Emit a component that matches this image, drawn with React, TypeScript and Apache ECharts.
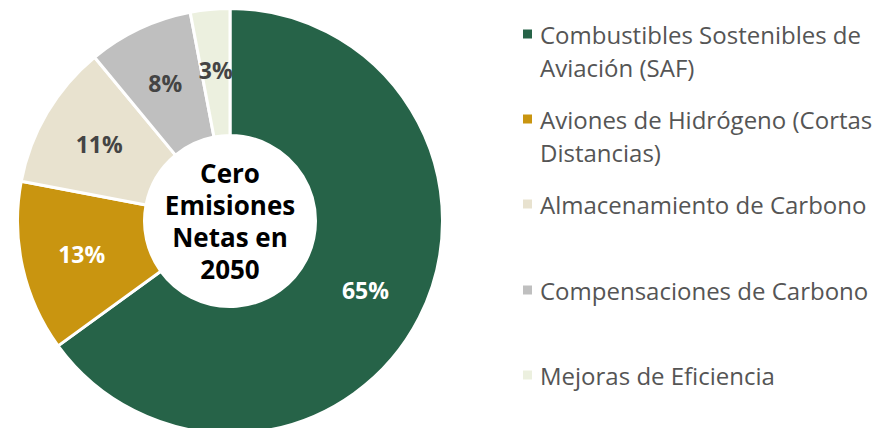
import React, { useEffect, useRef } from "react";
import * as echarts from "echarts";

const categories = [
  "Combustibles Sostenibles de Aviación (SAF)",
  "Aviones de Hidrógeno (Cortas Distancias)",
  "Almacenamiento de Carbono",
  "Compensaciones de Carbono",
  "Mejoras de Eficiencia",
];
const legendLabels = [
  "Combustibles Sostenibles de\nAviación (SAF)",
  "Aviones de Hidrógeno (Cortas\nDistancias)",
  "Almacenamiento de Carbono",
  "Compensaciones de Carbono",
  "Mejoras de Eficiencia",
];
const values = [65, 13, 11, 8, 3];
const colors = ["#266348", "#c99510", "#e8e2cf", "#bfbfbf", "#ecf0df"];
const labelColors = ["#ffffff", "#ffffff", "#444444", "#444444", "#444444"];
const centerTitle = "Cero\nEmisiones\nNetas en\n2050";
const legendIconCenters = [34, 119, 204, 290, 375];

const FONT = "'Open Sans', sans-serif";

export default function App() {
  const ref = useRef<HTMLDivElement>(null);
  useEffect(() => {
    if (!ref.current) return;
    const chart = echarts.init(ref.current, null, { renderer: "svg" });
    const LH = 33;
    const legends = categories.map((name, i) => {
      const twoLine = legendLabels[i].includes("\n");
      const boxH = twoLine ? 3 * LH : LH;
      return {
        data: [name],
        orient: "vertical",
        left: 521,
        top: legendIconCenters[i] - boxH / 2,
        padding: 0,
        itemWidth: 11,
        itemHeight: 11,
        icon: "rect",
        selectedMode: false,
        formatter: () => (twoLine ? " \n" + legendLabels[i] : legendLabels[i]),
        textStyle: {
          color: "#555555",
          fontFamily: FONT,
          fontSize: 24,
          lineHeight: LH,
          padding: [0, 0, 0, 2],
        },
      };
    });
    chart.setOption({
      animation: false,
      color: colors,
      legend: legends,
      graphic: [
        {
          type: "text",
          x: 230,
          y: 221,
          silent: true,
          style: {
            text: centerTitle,
            align: "center",
            verticalAlign: "middle",
            fill: "#000000",
            fontFamily: FONT,
            fontSize: 26,
            fontWeight: "bold",
            lineHeight: 32.3,
          },
        },
      ],
      series: [
        {
          type: "pie",
          center: [230, 221],
          radius: [85.5, 212.5],
          startAngle: 90,
          clockwise: true,
          avoidLabelOverlap: false,
          itemStyle: { borderColor: "#ffffff", borderWidth: 3 },
          label: {
            show: true,
            position: "inside",
            formatter: "{c}%",
            fontFamily: FONT,
            fontSize: 23,
            fontWeight: "bold",
          },
          labelLine: { show: false },
          emphasis: { disabled: true },
          data: categories.map((name, i) => ({
            name,
            value: values[i],
            itemStyle: { color: colors[i] },
            label: { color: labelColors[i] },
          })),
        },
      ],
    });
    return () => chart.dispose();
  }, []);
  return (
    <div
      ref={ref}
      style={{ position: "fixed", left: 0, top: 0, width: 893, height: 428, background: "#ffffff" }}
    />
  );
}
